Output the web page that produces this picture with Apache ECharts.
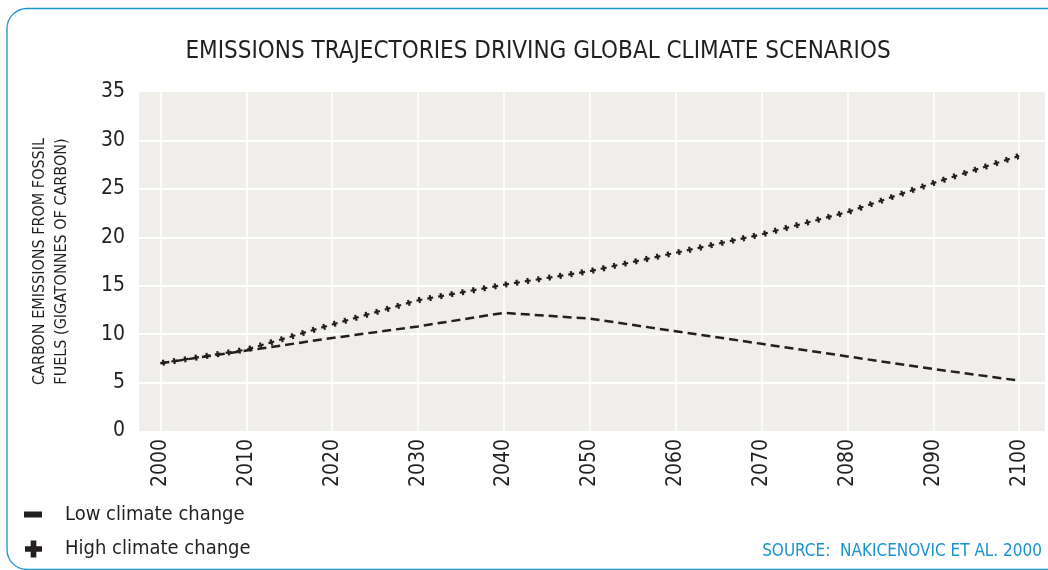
<!DOCTYPE html>
<html>
<head>
<meta charset="utf-8">
<script src="https://cdn.jsdelivr.net/npm/echarts@6/dist/echarts.min.js"></script>
<style>
html,body{margin:0;padding:0;background:#fff}
#chart{width:1048px;height:570px}
</style>
</head>
<body>
<div id="chart"></div>
<script>
// values, decade steps
var years = [2000, 2010, 2020, 2030, 2040, 2050, 2060, 2070, 2080, 2090, 2100];
var lowChange = [7.0, 8.3, 9.6, 10.8, 12.2, 11.6, 10.3, 9.0, 7.7, 6.4, 5.2];
var highChange = [7.0, 8.4, 11.0, 13.5, 15.1, 16.5, 18.4, 20.3, 22.6, 25.6, 28.4];
var yTicks = [0, 5, 10, 15, 20, 25, 30, 35];

var titleText = 'EMISSIONS TRAJECTORIES DRIVING GLOBAL CLIMATE SCENARIOS';
var yName = 'CARBON EMISSIONS FROM FOSSIL\nFUELS (GIGATONNES OF CARBON)';
var lowName = 'Low climate change';
var highName = 'High climate change';
var sourceText = 'SOURCE:  NAKICENOVIC ET AL. 2000';

var font = "'Liberation Sans Narrow','DejaVu Sans Condensed','Roboto',sans-serif";
var ink = '#231f20';
var blue = '#1b93cf';

function pairs(vals) {
	var out = [];
	for (var i = 0; i < years.length; i++) {
		out.push([years[i], vals[i]]);
	}
	return out;
}

var chart = echarts.init(document.getElementById('chart'), null, {renderer: 'canvas'});

var option = {
	animation: false,
	textStyle: {fontFamily: font},
	grid: {
		left: 139, right: 3, top: 92, bottom: 139,
		show: true, backgroundColor: '#efeeea', borderWidth: 0
	},
	xAxis: {
		type: 'value',
		min: 1997.5,
		max: 2103,
		axisLine: {show: false},
		axisTick: {show: false, customValues: years},
		axisLabel: {
			customValues: years,
			rotate: 90, margin: 8,
			fontFamily: font, fontSize: 21, color: ink,
			formatter: function(v) { return String(v); }
		},
		splitLine: {show: true, lineStyle: {color: '#ffffff', width: 1.5}}
	},
	yAxis: {
		type: 'value',
		min: yTicks[0],
		max: yTicks[yTicks.length - 1],
		interval: 5,
		name: yName,
		nameLocation: 'middle',
		nameRotate: 90,
		nameGap: 66,
		nameTextStyle: {fontFamily: font, fontSize: 16, lineHeight: 22, color: ink},
		axisLine: {show: false},
		axisTick: {show: false},
		axisLabel: {margin: 14, fontFamily: font, fontSize: 21, color: ink},
		splitLine: {show: true, showMinLine: false, showMaxLine: false, lineStyle: {color: '#ffffff', width: 2}}
	},
	legend: [{
		data: [{name: lowName, icon: 'rect'}],
		orient: 'vertical',
		left: 24, top: 504.5,
		padding: 0,
		itemWidth: 18, itemHeight: 6,
		selectedMode: false,
		itemStyle: {borderWidth: 0},
		textStyle: {fontFamily: font, fontSize: 20, color: ink, padding: [0, 0, 0, 18]}
	}, {
		data: [{name: highName, icon: 'path://M6,0H12V6H18V12H12V18H6V12H0V6H6Z'}],
		orient: 'vertical',
		left: 25, top: 539,
		padding: 0,
		itemWidth: 17, itemHeight: 17,
		selectedMode: false,
		itemStyle: {borderWidth: 0},
		textStyle: {fontFamily: font, fontSize: 20, color: ink, padding: [0, 0, 0, 18]}
	}],
	graphic: [{
		type: 'rect', silent: true,
		shape: {x: 7, y: 8.5, width: 1060, height: 561, r: 20},
		style: {fill: 'none', stroke: blue, lineWidth: 1.3}
	}, {
		type: 'text', silent: true,
		x: 538, y: 52,
		style: {text: titleText, fontFamily: font, fontSize: 24, fill: ink, align: 'center', verticalAlign: 'middle'}
	}, {
		type: 'text', silent: true,
		x: 1042, y: 552,
		style: {text: sourceText, fontFamily: font, fontSize: 17, fill: blue, align: 'right', verticalAlign: 'middle'}
	}],
	series: [{
		name: lowName,
		type: 'line',
		data: pairs(lowChange),
		symbol: 'none',
		color: ink,
		lineStyle: {color: ink, width: 2.5, type: [9, 5]},
		z: 3
	}, {
		// bar of the plus along the path
		name: highName,
		type: 'line',
		data: pairs(highChange),
		symbol: 'none',
		color: ink,
		lineStyle: {color: ink, width: 2.2, type: [6, 5], cap: 'butt'},
		z: 4
	}, {
		// short thick dash = the cross stroke of the plus
		name: highName,
		type: 'line',
		data: pairs(highChange),
		symbol: 'none',
		color: ink,
		lineStyle: {color: ink, width: 6, type: [2.2, 8.8], dashOffset: 9.1, cap: 'butt'},
		z: 4
	}]
};

chart.setOption(option);
</script>
</body>
</html>
